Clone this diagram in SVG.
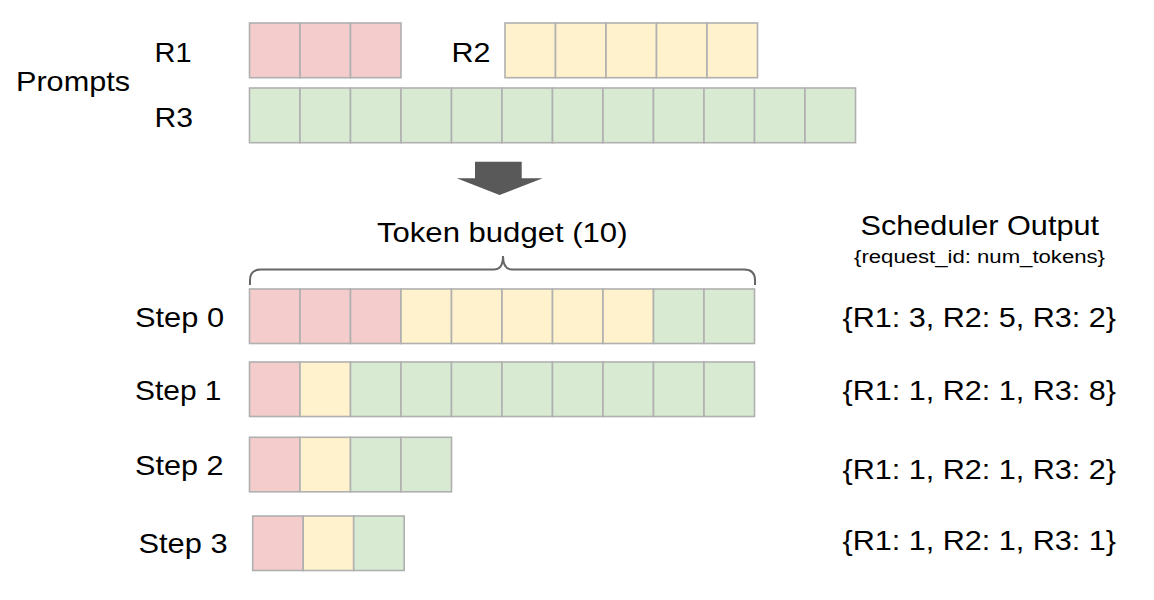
<svg xmlns="http://www.w3.org/2000/svg" width="1154" height="600" viewBox="0 0 1154 600">
<defs>
<style>
.t{font-family:"Liberation Sans",Arial,sans-serif;fill:#000;}
.lg{font-size:28px;}
.sm{font-size:18px;}
.c{stroke:#b0b0b0;stroke-width:1.6;}
.p{fill:#f4cccc;}
.y{fill:#fff2cc;}
.g{fill:#d9ead3;}
</style>
</defs>
<rect width="1154" height="600" fill="#ffffff"/>

<g id="labels">
<text class="t lg" x="16" y="90.7" textLength="114" lengthAdjust="spacingAndGlyphs">Prompts</text>
<text class="t lg" x="154.5" y="62.3" textLength="37" lengthAdjust="spacingAndGlyphs">R1</text>
<text class="t lg" x="451.5" y="61.7" textLength="39" lengthAdjust="spacingAndGlyphs">R2</text>
<text class="t lg" x="154.5" y="127.3" textLength="38.5" lengthAdjust="spacingAndGlyphs">R3</text>
<text class="t lg" x="377" y="241.7" textLength="250.5" lengthAdjust="spacingAndGlyphs">Token budget (10)</text>
<text class="t lg" x="860.5" y="235" textLength="238.5" lengthAdjust="spacingAndGlyphs">Scheduler Output</text>
<text class="t sm" x="854" y="263.3" textLength="251" lengthAdjust="spacingAndGlyphs">{request_id: num_tokens}</text>
<text class="t lg" x="135" y="326.7" textLength="89" lengthAdjust="spacingAndGlyphs">Step 0</text>
<text class="t lg" x="135" y="400" textLength="86.5" lengthAdjust="spacingAndGlyphs">Step 1</text>
<text class="t lg" x="135" y="475" textLength="88.5" lengthAdjust="spacingAndGlyphs">Step 2</text>
<text class="t lg" x="138.5" y="553.3" textLength="89" lengthAdjust="spacingAndGlyphs">Step 3</text>
<text class="t lg" x="842.5" y="327.3" textLength="273.5" lengthAdjust="spacingAndGlyphs">{R1: 3, R2: 5, R3: 2}</text>
<text class="t lg" x="842.5" y="400" textLength="273.5" lengthAdjust="spacingAndGlyphs">{R1: 1, R2: 1, R3: 8}</text>
<text class="t lg" x="842.5" y="478.5" textLength="273.5" lengthAdjust="spacingAndGlyphs">{R1: 1, R2: 1, R3: 2}</text>
<text class="t lg" x="842.5" y="550" textLength="273.5" lengthAdjust="spacingAndGlyphs">{R1: 1, R2: 1, R3: 1}</text>
</g>

<g id="prompt-r1">
<rect class="c p" x="249.5" y="23" width="50.5" height="54.7"/>
<rect class="c p" x="300" y="23" width="50.5" height="54.7"/>
<rect class="c p" x="350.5" y="23" width="50.5" height="54.7"/>
</g>
<g id="prompt-r2">
<rect class="c y" x="505" y="23" width="50.5" height="54.7"/>
<rect class="c y" x="555.5" y="23" width="50.5" height="54.7"/>
<rect class="c y" x="606" y="23" width="50.5" height="54.7"/>
<rect class="c y" x="656.5" y="23" width="50.5" height="54.7"/>
<rect class="c y" x="707" y="23" width="50.5" height="54.7"/>
</g>
<g id="prompt-r3">
<rect class="c g" x="249.5" y="88" width="50.5" height="54.7"/>
<rect class="c g" x="300" y="88" width="50.5" height="54.7"/>
<rect class="c g" x="350.5" y="88" width="50.5" height="54.7"/>
<rect class="c g" x="401" y="88" width="50.5" height="54.7"/>
<rect class="c g" x="451.5" y="88" width="50.5" height="54.7"/>
<rect class="c g" x="502" y="88" width="50.5" height="54.7"/>
<rect class="c g" x="552.5" y="88" width="50.5" height="54.7"/>
<rect class="c g" x="603" y="88" width="50.5" height="54.7"/>
<rect class="c g" x="653.5" y="88" width="50.5" height="54.7"/>
<rect class="c g" x="704" y="88" width="50.5" height="54.7"/>
<rect class="c g" x="754.5" y="88" width="50.5" height="54.7"/>
<rect class="c g" x="805" y="88" width="50.5" height="54.7"/>
</g>

<g id="step0">
<rect class="c p" x="249.5" y="289" width="50.5" height="54.5"/>
<rect class="c p" x="300" y="289" width="50.5" height="54.5"/>
<rect class="c p" x="350.5" y="289" width="50.5" height="54.5"/>
<rect class="c y" x="401" y="289" width="50.5" height="54.5"/>
<rect class="c y" x="451.5" y="289" width="50.5" height="54.5"/>
<rect class="c y" x="502" y="289" width="50.5" height="54.5"/>
<rect class="c y" x="552.5" y="289" width="50.5" height="54.5"/>
<rect class="c y" x="603" y="289" width="50.5" height="54.5"/>
<rect class="c g" x="653.5" y="289" width="50.5" height="54.5"/>
<rect class="c g" x="704" y="289" width="50.5" height="54.5"/>
</g>
<g id="step1">
<rect class="c p" x="249.5" y="362" width="50.5" height="54.5"/>
<rect class="c y" x="300" y="362" width="50.5" height="54.5"/>
<rect class="c g" x="350.5" y="362" width="50.5" height="54.5"/>
<rect class="c g" x="401" y="362" width="50.5" height="54.5"/>
<rect class="c g" x="451.5" y="362" width="50.5" height="54.5"/>
<rect class="c g" x="502" y="362" width="50.5" height="54.5"/>
<rect class="c g" x="552.5" y="362" width="50.5" height="54.5"/>
<rect class="c g" x="603" y="362" width="50.5" height="54.5"/>
<rect class="c g" x="653.5" y="362" width="50.5" height="54.5"/>
<rect class="c g" x="704" y="362" width="50.5" height="54.5"/>
</g>
<g id="step2">
<rect class="c p" x="249.5" y="437.3" width="50.5" height="54.5"/>
<rect class="c y" x="300" y="437.3" width="50.5" height="54.5"/>
<rect class="c g" x="350.5" y="437.3" width="50.5" height="54.5"/>
<rect class="c g" x="401" y="437.3" width="50.5" height="54.5"/>
</g>
<g id="step3">
<rect class="c p" x="252.7" y="516" width="50.5" height="54.5"/>
<rect class="c y" x="303.2" y="516" width="50.5" height="54.5"/>
<rect class="c g" x="353.7" y="516" width="50.5" height="54.5"/>
</g>

<g id="connectors">
<polygon points="475,161.7 521.7,161.7 521.7,178.3 542.7,178.3 499.5,195 456.7,178.3 475,178.3" fill="#595959"/>
<path d="M250,285 L250,280 Q250,269.5 261,269.5 L494,269.5 Q503,269.5 503,256 Q503,269.5 512,269.5 L744,269.5 Q755,269.5 755,280 L755,285" fill="none" stroke="#666666" stroke-width="2"/>
</g>
</svg>
